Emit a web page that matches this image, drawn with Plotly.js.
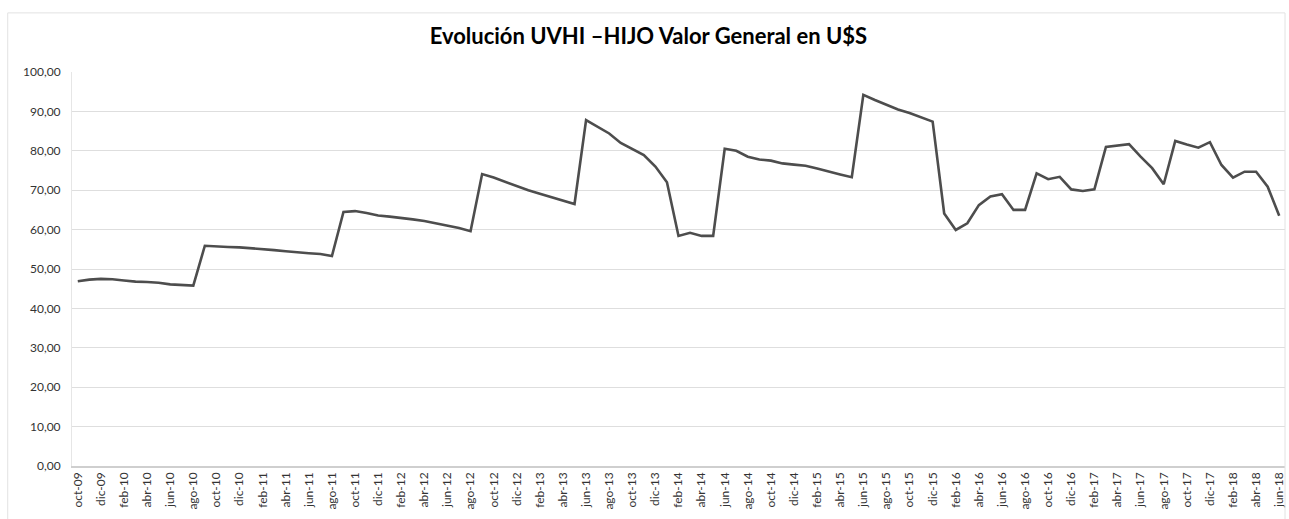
<!DOCTYPE html>
<html>
<head>
<meta charset="utf-8">
<script src="https://cdn.plot.ly/plotly-3.0.1.min.js"></script>
<style>
  html, body { margin: 0; padding: 0; background: #ffffff; }
  #chart { width: 1289px; height: 519px; }
</style>
</head>
<body>
<div id="chart"></div>
<script>
// Monthly categories oct-09 .. jun-18
const months = [
  "oct-09","nov-09","dic-09",
  "ene-10","feb-10","mar-10","abr-10","may-10","jun-10","jul-10","ago-10","sep-10","oct-10","nov-10","dic-10",
  "ene-11","feb-11","mar-11","abr-11","may-11","jun-11","jul-11","ago-11","sep-11","oct-11","nov-11","dic-11",
  "ene-12","feb-12","mar-12","abr-12","may-12","jun-12","jul-12","ago-12","sep-12","oct-12","nov-12","dic-12",
  "ene-13","feb-13","mar-13","abr-13","may-13","jun-13","jul-13","ago-13","sep-13","oct-13","nov-13","dic-13",
  "ene-14","feb-14","mar-14","abr-14","may-14","jun-14","jul-14","ago-14","sep-14","oct-14","nov-14","dic-14",
  "ene-15","feb-15","mar-15","abr-15","may-15","jun-15","jul-15","ago-15","sep-15","oct-15","nov-15","dic-15",
  "ene-16","feb-16","mar-16","abr-16","may-16","jun-16","jul-16","ago-16","sep-16","oct-16","nov-16","dic-16",
  "ene-17","feb-17","mar-17","abr-17","may-17","jun-17","jul-17","ago-17","sep-17","oct-17","nov-17","dic-17",
  "ene-18","feb-18","mar-18","abr-18","may-18","jun-18"
];

// UVHI - HIJO Valor General en U$S
const uvhiValues = [
  46.9, 47.3, 47.5,
  47.4, 47.1, 46.8, 46.7, 46.5, 46.1, 46.0, 45.8, 55.9, 55.7, 55.6, 55.5,
  55.3, 55.1, 54.8, 54.5, 54.2, 54.0, 53.8, 53.3, 64.5, 64.7, 64.2, 63.6,
  63.3, 63.0, 62.6, 62.2, 61.6, 61.1, 60.4, 59.6, 74.1, 73.2, 72.1, 71.1,
  70.0, 69.1, 68.2, 67.3, 66.5, 87.8, 86.1, 84.4, 82.0, 80.5, 78.9, 76.0,
  72.0, 58.4, 59.2, 58.4, 58.4, 80.5, 80.0, 78.5, 77.8, 77.5, 76.8, 76.5,
  76.2, 75.5, 74.7, 74.0, 73.3, 94.2, 92.9, 91.6, 90.5, 89.6, 88.5, 87.4,
  64.1, 59.9, 61.6, 66.2, 68.4, 69.0, 65.0, 65.0, 74.3, 72.8, 73.4, 70.2,
  69.8, 70.2, 81.0, 81.3, 81.7, 78.5, 75.6, 71.5, 82.5, 81.6, 80.8, 82.2,
  76.4, 73.2, 74.7, 74.7, 70.9, 63.5
];

// Tick labels shown every two months
const xTickLabels = months.filter((m, i) => i % 2 === 0);
const yTickValues = [0, 10, 20, 30, 40, 50, 60, 70, 80, 90, 100];

const chartTitle = "Evolución UVHI –HIJO Valor General en U$S";

const trace = {
  type: "scatter",
  mode: "lines",
  x: months,
  y: uvhiValues,
  line: { color: "#4d4d4d", width: 2.6 },
  hoverinfo: "x+y"
};

const layout = {
  width: 1289,
  height: 519,
  margin: { l: 72, r: 4, t: 72, b: 53 },
  paper_bgcolor: "#ffffff",
  plot_bgcolor: "#ffffff",
  separators: ",.",
  showlegend: false,
  title: {
    text: "<b>" + chartTitle + "</b>",
    x: 0.503,
    xanchor: "center",
    y: 0.93,
    yanchor: "middle",
    font: { family: "Lato, 'Open Sans', sans-serif", size: 22, color: "#000000" }
  },
  xaxis: {
    type: "category",
    categoryorder: "array",
    categoryarray: months,
    range: [-0.5, months.length - 0.5],
    tickmode: "array",
    tickvals: xTickLabels,
    ticktext: xTickLabels,
    tickangle: -90,
    tickfont: { family: "Lato, 'Open Sans', sans-serif", size: 12, color: "#333333" },
    showgrid: false,
    showline: true,
    linecolor: "#cfcfcf",
    linewidth: 1.5,
    ticks: "",
    zeroline: false,
    fixedrange: true
  },
  yaxis: {
    range: [0, 100],
    tickmode: "array",
    tickvals: yTickValues,
    tickformat: ".2f",
    tickfont: { family: "Lato, 'Open Sans', sans-serif", size: 12, color: "#333333" },
    ticklabelstandoff: 8,
    showgrid: true,
    gridcolor: "#dedede",
    gridwidth: 1,
    showline: true,
    linecolor: "#e6e6e6",
    linewidth: 1,
    zeroline: false,
    ticks: "",
    fixedrange: true
  },
  shapes: [
    {
      type: "rect",
      xref: "paper", yref: "paper",
      x0: -0.053, x1: 1.0, y0: -0.14, y1: 1.15,
      line: { color: "#e2e2e2", width: 1 },
      fillcolor: "rgba(0,0,0,0)"
    }
  ]
};

Plotly.newPlot("chart", [trace], layout, { displayModeBar: false, staticPlot: true });
</script>
</body>
</html>
